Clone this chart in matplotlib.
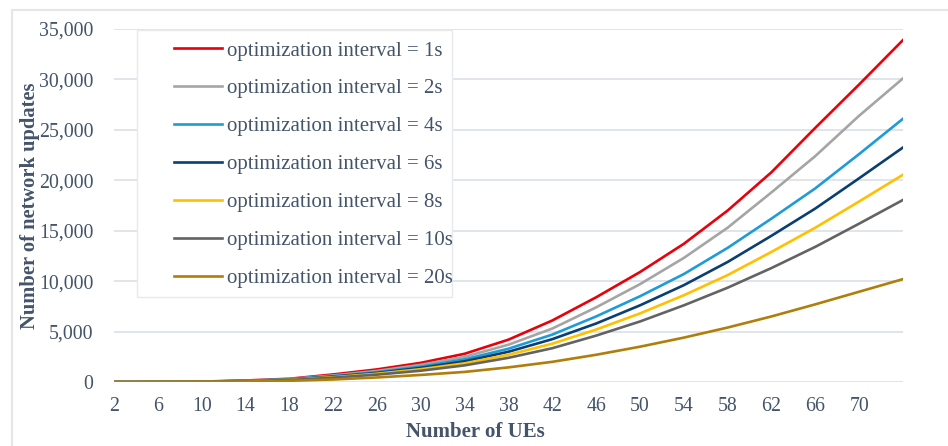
import matplotlib.pyplot as plt
from matplotlib.patches import Rectangle
from matplotlib.ticker import FuncFormatter

# number of UEs (sampled every 4)
ues = [2, 6, 10, 14, 18, 22, 26, 30, 34, 38, 42, 46, 50, 54, 58, 62, 66, 70, 74]

int_1s = [0, 5, 40, 150, 320, 750, 1250, 1900, 2800, 4200, 6100, 8400, 10900,
          13700, 17000, 20800, 25200, 29500, 33900]
int_2s = [0, 5, 35, 130, 290, 650, 1100, 1700, 2500, 3700, 5300, 7400, 9700,
          12300, 15300, 18800, 22400, 26400, 30100]
int_4s = [0, 5, 30, 120, 260, 580, 980, 1520, 2250, 3300, 4700, 6500, 8500,
          10700, 13300, 16200, 19200, 22600, 26100]
int_6s = [0, 5, 28, 110, 240, 530, 900, 1400, 2050, 3000, 4250, 5800, 7600,
          9600, 11900, 14500, 17200, 20200, 23250]
int_8s = [0, 4, 25, 100, 220, 480, 820, 1270, 1850, 2700, 3800, 5200, 6800,
          8600, 10600, 12900, 15300, 17900, 20550]
int_10s = [0, 4, 22, 90, 200, 430, 730, 1120, 1650, 2400, 3350, 4600, 6000,
           7600, 9350, 11300, 13400, 15700, 18050]
int_20s = [0, 2, 12, 50, 120, 250, 450, 700, 1000, 1450, 2000, 2700, 3500,
           4400, 5400, 6500, 7700, 8950, 10200]

labels = ['optimization interval = 1s', 'optimization interval = 2s',
          'optimization interval = 4s', 'optimization interval = 6s',
          'optimization interval = 8s', 'optimization interval = 10s',
          'optimization interval = 20s']
colors = ['#E8000B', '#A5A5A5', '#1F9BD7', '#0B3F73', '#FFC000', '#636363', '#B07E0A']
series = [int_1s, int_2s, int_4s, int_6s, int_8s, int_10s, int_20s]

text_col = '#44546A'
grid_col = '#DDE3EA'
plt.rcParams['font.family'] = ['Liberation Serif', 'DejaVu Serif']

fig = plt.figure(figsize=(9.48, 4.46), dpi=100)
ax = fig.add_axes([0.1203, 0.1435, 0.8322, 0.7915])

for vals, lab, c in zip(series, labels, colors):
    ax.plot(ues, vals, color=c, lw=1.9, label=lab, zorder=3)

ax.set_xlim(2, 74)
ax.set_ylim(0, 35000)
ax.set_xticks(range(2, 71, 4))
ax.set_yticks(range(0, 35001, 5000))
ax.yaxis.set_major_formatter(FuncFormatter(lambda v, p: f'{int(v):,}'))
ax.grid(axis='y', color=grid_col, lw=1.3)
ax.set_axisbelow(True)
for s in ax.spines.values():
    s.set_visible(False)
ax.tick_params(length=0, labelsize=14.3, colors=text_col)
ax.tick_params(axis='y', pad=15)
ax.tick_params(axis='x', pad=11)

fig.text(0.0316, 0.538, 'Number of network updates', rotation=90, ha='center', va='center',
         fontsize=14.8, fontweight='bold', color=text_col)
fig.text(0.501, 0.031, 'Number of UEs', ha='center', va='center',
         fontsize=15, fontweight='bold', color=text_col)

# legend box drawn separately (wide left padding like the original)
ax.add_patch(Rectangle((0.0292, 0.241), 0.3992, 0.756, transform=ax.transAxes,
                       facecolor='white', edgecolor='#E6E9EE', lw=1.0, zorder=4))
leg = ax.legend(loc='upper left', bbox_to_anchor=(0.076, 0.966), frameon=False,
                fontsize=15, labelcolor=text_col,
                handlelength=2.28, handletextpad=0.24, labelspacing=0.88,
                borderpad=0, borderaxespad=0)
leg.set_zorder(5)

# outer chart frame
fig.patches.append(Rectangle((12 / 948, -0.1), 1.2, 1 - 10 / 446 + 0.1,
                             transform=fig.transFigure, fill=False,
                             edgecolor='#E3E7EC', lw=1.5))

fig.savefig('out.png', dpi=100)
